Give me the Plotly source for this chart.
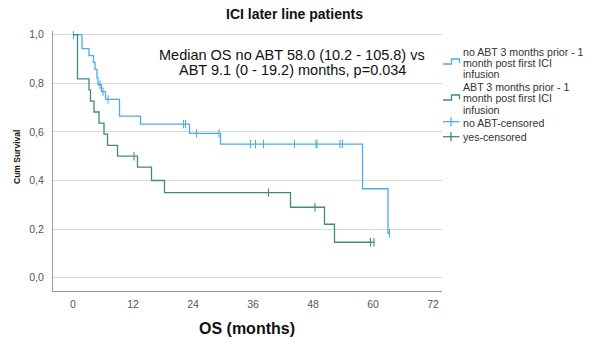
import plotly.graph_objects as go

# ---------------- data ----------------
# Kaplan-Meier: event times (months) and survival after each event
noabt_time = [0.0, 1.8, 3.2, 4.1, 4.4, 4.8, 5.0, 5.7, 6.5, 9.3, 13.5, 23.3, 29.5, 57.9, 63.0]
noabt_surv = [1.0, 0.943, 0.914, 0.886, 0.857, 0.822, 0.794, 0.766, 0.734, 0.665, 0.632, 0.594, 0.55, 0.366, 0.183]
noabt_end = 63.3
noabt_censor = [0.1, 5.4, 6.0, 7.0, 22.1, 22.5, 24.7, 29.2, 35.5, 36.5, 38.1, 44.3, 48.6, 48.8, 53.4, 53.9, 63.3]

abt_time = [0.0, 0.9, 3.2, 3.5, 4.2, 5.2, 6.2, 6.9, 8.9, 12.9, 15.7, 18.3, 43.5, 50.3, 52.3]
abt_surv = [1.0, 0.818, 0.773, 0.727, 0.682, 0.636, 0.591, 0.545, 0.50, 0.455, 0.40, 0.35, 0.29, 0.22, 0.146]
abt_end = 60.2
abt_censor = [12.2, 39.1, 48.4, 59.5, 60.2]

x_ticks = [0, 12, 24, 36, 48, 60, 72]
y_ticks = [0.0, 0.2, 0.4, 0.6, 0.8, 1.0]

title_text = "ICI later line patients"
note_lines = ["Median OS no ABT 58.0 (10.2 - 105.8) vs", "ABT 9.1 (0 - 19.2) months, p=0.034"]
legend_group1 = ["no ABT 3 months prior - 1", "month post first ICI", "infusion"]
legend_group2 = ["ABT 3 months prior - 1", "month post first ICI", "infusion"]
legend_cens1 = "no ABT-censored"
legend_cens2 = "yes-censored"
x_title = "OS (months)"
y_title = "Cum Survival"

BLUE = "#4fa9ec"
GREEN = "#3f8b83"
FONT = "Arial, Liberation Sans, sans-serif"

W, H = 591, 337
ML, MR, MT, MB = 53, 149, 31, 46
PW, PH = W - ML - MR, H - MT - MB


def px(xp):
    return (xp - ML) / PW


def py(yp):
    return (H - MB - yp) / PH


def surv_at(times, survs, t):
    s = survs[0]
    for ti, si in zip(times, survs):
        if ti <= t:
            s = si
    return s


fig = go.Figure()

for times, survs, end, cens, col in [
    (noabt_time, noabt_surv, noabt_end, noabt_censor, BLUE),
    (abt_time, abt_surv, abt_end, abt_censor, GREEN),
]:
    fig.add_trace(go.Scatter(
        x=times + [end], y=survs + [survs[-1]], mode="lines",
        line=dict(color=col, width=1.3, shape="hv"), showlegend=False, hoverinfo="skip"))
    fig.add_trace(go.Scatter(
        x=cens, y=[surv_at(times, survs, c) for c in cens], mode="markers",
        marker=dict(symbol="line-ns", size=6, line=dict(color=col, width=1.1)),
        showlegend=False, hoverinfo="skip"))

annotations = []
# title
annotations.append(dict(text="<b>%s</b>" % title_text, x=px(294), y=py(14), xref="paper", yref="paper",
                        showarrow=False, xanchor="center", yanchor="middle",
                        font=dict(family=FONT, size=14, color="#111")))
# note
for i, line in enumerate(note_lines):
    annotations.append(dict(text=line, x=px(292), y=py(55 + 15 * i), xref="paper", yref="paper",
                            showarrow=False, xanchor="center", yanchor="middle",
                            font=dict(family=FONT, size=14.5, color="#111")))
# axis titles
annotations.append(dict(text="<b>%s</b>" % x_title, x=px(247), y=py(328), xref="paper", yref="paper",
                        showarrow=False, xanchor="center", yanchor="middle",
                        font=dict(family=FONT, size=16, color="#111")))
annotations.append(dict(text="<b>%s</b>" % y_title, x=px(17), y=py(157), xref="paper", yref="paper",
                        showarrow=False, xanchor="center", yanchor="middle", textangle=-90,
                        font=dict(family=FONT, size=8.5, color="#111")))
# legend text
leg_font = dict(family=FONT, size=10.6, color="#333")
for i, line in enumerate(legend_group1):
    annotations.append(dict(text=line, x=px(461), y=py(51.7 + 11 * i), xref="paper", yref="paper",
                            showarrow=False, xanchor="left", yanchor="middle", font=leg_font))
for i, line in enumerate(legend_group2):
    annotations.append(dict(text=line, x=px(461), y=py(87.3 + 11.2 * i), xref="paper", yref="paper",
                            showarrow=False, xanchor="left", yanchor="middle", font=leg_font))
annotations.append(dict(text=legend_cens1, x=px(461), y=py(122.7), xref="paper", yref="paper",
                        showarrow=False, xanchor="left", yanchor="middle", font=leg_font))
annotations.append(dict(text=legend_cens2, x=px(461), y=py(137.3), xref="paper", yref="paper",
                        showarrow=False, xanchor="left", yanchor="middle", font=leg_font))

shapes = []


def step_symbol(ymid, col):
    lo, hi = ymid + 2.5, ymid - 2.5
    pts = [(443, lo), (451.5, lo), (451.5, hi), (459.5, hi), (459.5, lo - 1)]
    path = "M " + " L ".join("%f,%f" % (px(a), py(b)) for a, b in pts)
    return dict(type="path", path=path, xref="paper", yref="paper", line=dict(color=col, width=1.3))


def plus_symbol(ymid, col):
    return [dict(type="line", x0=px(443), x1=px(459.5), y0=py(ymid), y1=py(ymid), xref="paper", yref="paper",
                 line=dict(color=col, width=1.3)),
            dict(type="line", x0=px(451), x1=px(451), y0=py(ymid - 4.5), y1=py(ymid + 4.5), xref="paper",
                 yref="paper", line=dict(color=col, width=1.3))]


shapes.append(step_symbol(61.5, BLUE))
shapes.append(step_symbol(97.5, GREEN))
shapes += plus_symbol(121.7, BLUE)
shapes += plus_symbol(136.7, GREEN)

fig.update_layout(
    width=W, height=H, margin=dict(l=ML, r=MR, t=MT, b=MB, pad=0),
    paper_bgcolor="white", plot_bgcolor="white", showlegend=False,
    separators=",.",
    font=dict(family=FONT, size=10.5, color="#555"),
    annotations=annotations, shapes=shapes,
    xaxis=dict(range=[-4.0, 73.8], tickvals=x_ticks, showgrid=False, zeroline=False,
               showline=True, linecolor="#9a9a9a", linewidth=1, ticks="",
               ticklabelstandoff=3, tickfont=dict(family=FONT, size=10.5, color="#555")),
    yaxis=dict(range=[-0.0547, 1.0153], tickvals=y_ticks, tickformat=".1f", showgrid=True,
               gridcolor="#dadada", gridwidth=1, zeroline=False, showline=True,
               linecolor="#9a9a9a", linewidth=1, ticks="", ticklabelstandoff=6,
               tickfont=dict(family=FONT, size=10.5, color="#555")),
)

fig.write_html("out.html")
